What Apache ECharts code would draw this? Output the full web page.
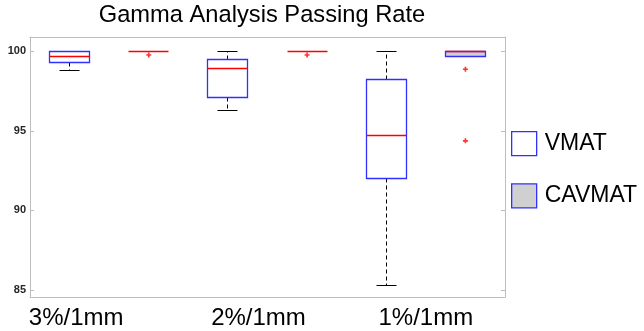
<!DOCTYPE html>
<html>
<head>
<meta charset="utf-8">
<script src="https://cdn.jsdelivr.net/npm/echarts@6/dist/echarts.min.js"></script>
<style>
  html, body { margin: 0; padding: 0; background: #fff; }
  #chart { width: 644px; height: 331px; }
</style>
</head>
<body>
<div id="chart"></div>
<script>
// groups on the x axis and the two methods inside each group
const categories = ["3%/1mm", "2%/1mm", "1%/1mm"];
const methods = ["VMAT", "CAVMAT"];

// box stats per group: [lower whisker, Q1, median, Q3, upper whisker]
const vmatStats = [
  [98.78, 99.28, 99.7, 100, 100],
  [96.3, 97.08, 98.93, 99.47, 100],
  [85.3, 92.0, 94.68, 98.2, 100]
];
const cavmatStats = [
  [100, 100, 100, 100, 100],
  [100, 100, 100, 100, 100],
  [99.7, 99.7, 100, 100, 100]
];

// outliers: [slot index, value]
const outliers = [
  [1, 99.77],
  [3, 99.77],
  [5, 98.87],
  [5, 94.37]
];

const slots = [];
categories.forEach(c => methods.forEach(m => slots.push(c + " " + m)));

const vmatData = vmatStats.map((s, i) => [i * 2].concat(s));
const cavmatData = cavmatStats.map((s, i) => [i * 2 + 1].concat(s));

const blue = "#3030ff";
const red = "#ff0000";

// snap to pixel centres so 1px lines stay crisp
const snap = v => Math.round(v - 0.5) + 0.5;

function renderBox(fill) {
  return function (params, api) {
    const x = api.value(0);
    const yMin = snap(api.coord([x, api.value(1)])[1]);
    const yQ1 = snap(api.coord([x, api.value(2)])[1]);
    const yMed = snap(api.coord([x, api.value(3)])[1]);
    const yQ3 = snap(api.coord([x, api.value(4)])[1]);
    const yMax = snap(api.coord([x, api.value(5)])[1]);
    const w = Math.round(api.size([1, 0])[0] * 0.5);
    const cx = snap(api.coord([x, api.value(3)])[0]);
    const left = cx - w / 2;
    const right = cx + w / 2;
    const black = { stroke: "#000", lineWidth: 1 };
    const dashed = { stroke: "#000", lineWidth: 1, lineDash: [4, 3] };
    const children = [
      { type: "line", shape: { x1: cx, y1: yQ3, x2: cx, y2: yMax }, style: dashed },
      { type: "line", shape: { x1: cx, y1: yQ1, x2: cx, y2: yMin }, style: dashed },
      { type: "line", shape: { x1: cx - w / 4, y1: yMax, x2: cx + w / 4, y2: yMax }, style: black },
      { type: "line", shape: { x1: cx - w / 4, y1: yMin, x2: cx + w / 4, y2: yMin }, style: black }
    ];
    if (yQ1 - yQ3 > 0) {
      children.push({
        type: "rect",
        shape: { x: left, y: yQ3, width: w, height: yQ1 - yQ3 },
        style: { fill: fill, stroke: blue, lineWidth: 1.3 }
      });
    }
    children.push({
      type: "line",
      shape: { x1: left, y1: yMed, x2: right, y2: yMed },
      style: { stroke: red, lineWidth: 1.3 }
    });
    return { type: "group", children: children };
  };
}

const chart = echarts.init(document.getElementById("chart"));

const axisGrey = "#bdbdbd";
const font = "'Liberation Sans', Arial, Helvetica, sans-serif";

// group labels sit left of their group centres in the original
const labelStyle = { fontFamily: font, fontSize: 24, color: "#000" };
const labelRich = {
  l0: Object.assign({ padding: [0, 66, 0, 0] }, labelStyle),
  l1: Object.assign({ padding: [0, 18, 0, 0] }, labelStyle),
  l2: Object.assign({ padding: [0, 0, 0, 0] }, labelStyle)
};

const option = {
  animation: false,
  title: {
    text: "Gamma Analysis Passing Rate",
    left: 262,
    textAlign: "center",
    top: 3,
    padding: 0,
    textStyle: { fontFamily: font, fontSize: 23.7, fontWeight: "normal", color: "#000" }
  },
  legend: {
    orient: "vertical",
    left: 511,
    top: 131,
    padding: 0,
    itemWidth: 25,
    itemHeight: 24,
    itemGap: 27,
    icon: "rect",
    selectedMode: false,
    textStyle: { fontFamily: font, fontSize: 23, color: "#000", padding: [0, 0, 0, 3] },
    data: [
      { name: "VMAT", itemStyle: { color: "#fff", borderColor: blue, borderWidth: 1.3 } },
      { name: "CAVMAT", itemStyle: { color: "#d0d0d0", borderColor: blue, borderWidth: 1.3 } }
    ]
  },
  grid: { left: 30, right: 139, top: 37, bottom: 34 },
  xAxis: [
    {
      type: "category",
      data: slots,
      boundaryGap: true,
      position: "bottom",
      axisLine: { lineStyle: { color: axisGrey } },
      axisTick: { inside: true, alignWithLabel: true, interval: 0, length: 4, lineStyle: { color: axisGrey } },
      axisLabel: { show: false, interval: 0 }
    },
    {
      type: "category",
      data: categories,
      boundaryGap: true,
      position: "bottom",
      axisLine: { show: false },
      axisTick: { show: false },
      axisLabel: {
        interval: 0,
        hideOverlap: false,
        fontFamily: font,
        fontSize: 24,
        color: "#000",
        margin: 9,
        formatter: (value, index) => "{l" + index + "|" + value + "}",
        rich: labelRich
      }
    },
    {
      type: "category",
      data: slots,
      boundaryGap: true,
      position: "top",
      axisLine: { lineStyle: { color: axisGrey } },
      axisTick: { inside: true, alignWithLabel: true, interval: 0, length: 4, lineStyle: { color: axisGrey } },
      axisLabel: { show: false, interval: 0 }
    }
  ],
  yAxis: [
    {
      type: "value",
      min: 84.55,
      max: 100.9,
      splitNumber: 3,
      minInterval: 5,
      maxInterval: 5,
      position: "left",
      splitLine: { show: false },
      axisLine: { show: true, lineStyle: { color: axisGrey } },
      axisTick: { show: true, inside: true, length: 4, lineStyle: { color: axisGrey } },
      axisLabel: { fontFamily: font, fontSize: 11, fontWeight: "bold", color: "#262626", margin: 4, showMinLabel: false, showMaxLabel: false }
    },
    {
      type: "value",
      min: 84.55,
      max: 100.9,
      splitNumber: 3,
      minInterval: 5,
      maxInterval: 5,
      position: "right",
      splitLine: { show: false },
      axisLine: { show: true, lineStyle: { color: axisGrey } },
      axisTick: { show: true, inside: true, length: 4, lineStyle: { color: axisGrey } },
      axisLabel: { show: false }
    }
  ],
  series: [
    {
      name: "VMAT",
      type: "custom",
      xAxisIndex: 0,
      yAxisIndex: 0,
      renderItem: renderBox("#fff"),
      encode: { x: 0, y: [1, 2, 3, 4, 5] },
      itemStyle: { color: "#fff", borderColor: blue },
      data: vmatData
    },
    {
      name: "CAVMAT",
      type: "custom",
      xAxisIndex: 0,
      yAxisIndex: 0,
      renderItem: renderBox("#d0d0d0"),
      encode: { x: 0, y: [1, 2, 3, 4, 5] },
      itemStyle: { color: "#d0d0d0", borderColor: blue },
      data: cavmatData
    },
    {
      name: "Outliers",
      type: "scatter",
      xAxisIndex: 0,
      yAxisIndex: 0,
      symbol: "path://M2,0H4V2H6V4H4V6H2V4H0V2H2Z",
      symbolSize: 5,
      itemStyle: { color: red },
      data: outliers
    }
  ]
};

chart.setOption(option);

window.addEventListener("resize", () => chart.resize());
</script>
</body>
</html>
